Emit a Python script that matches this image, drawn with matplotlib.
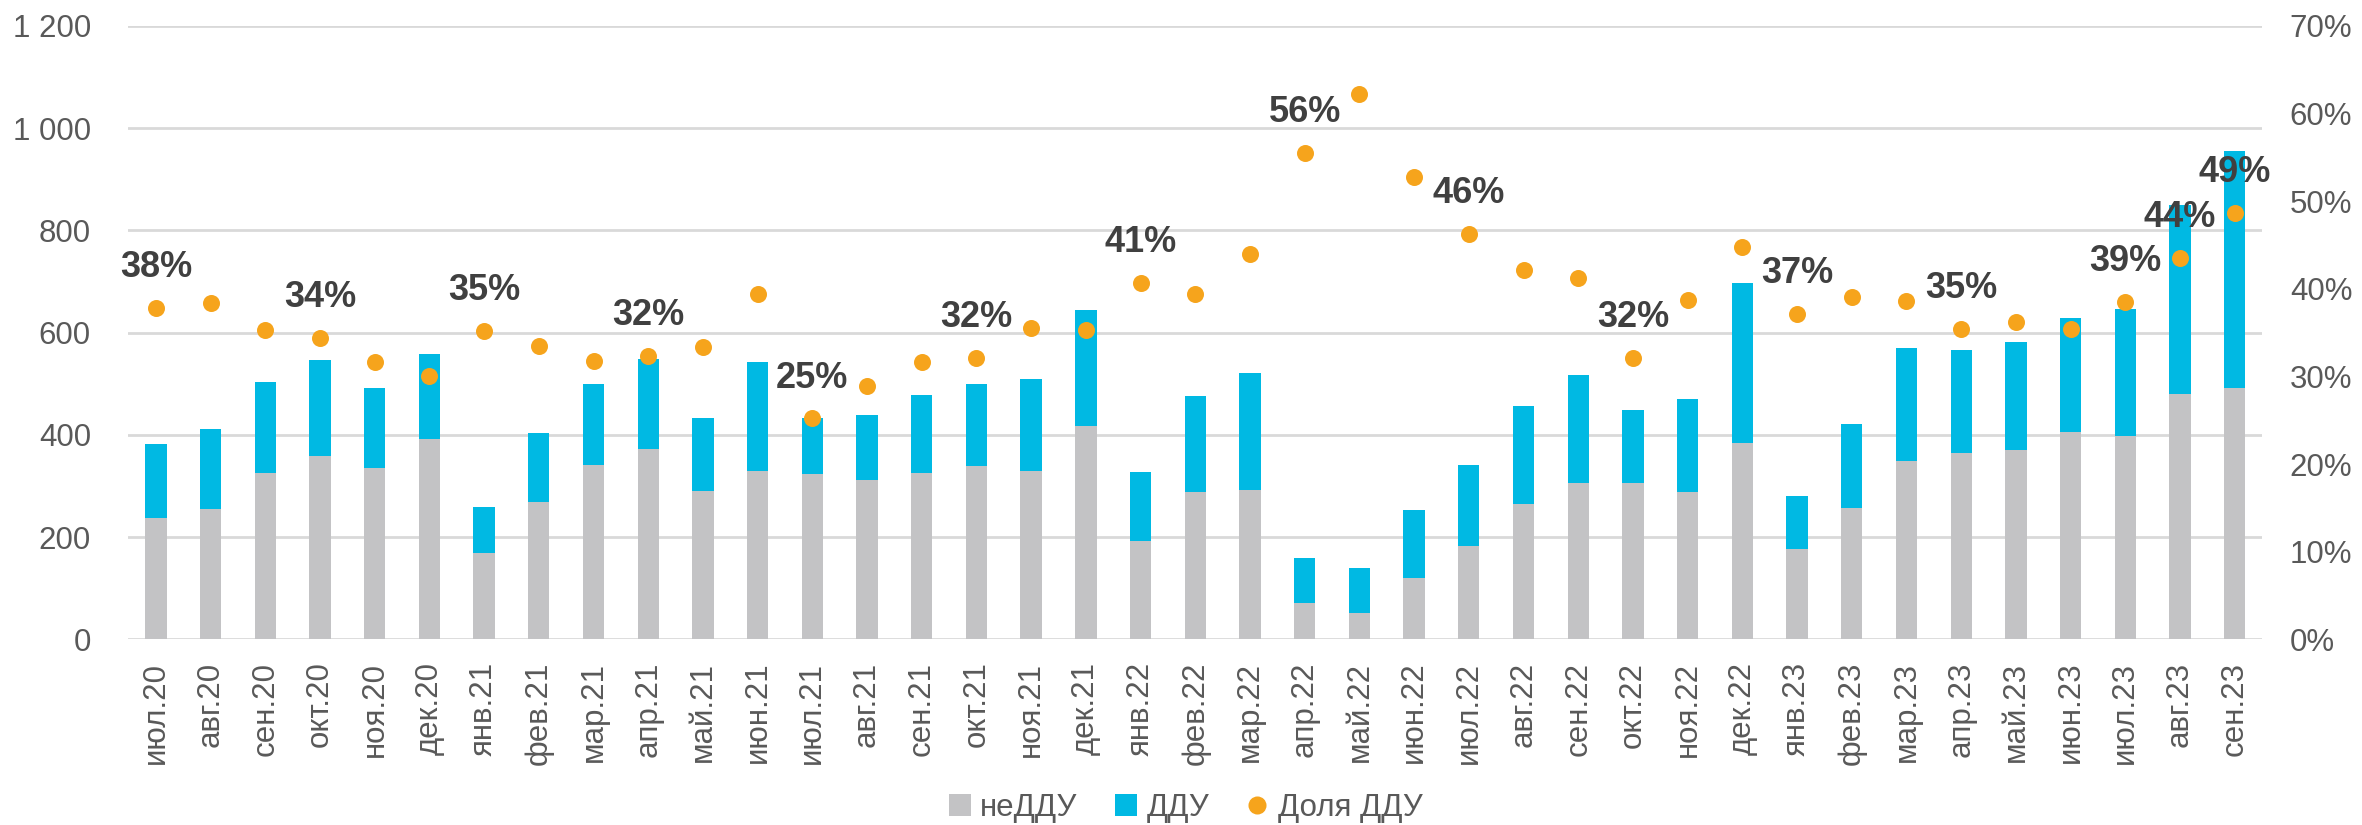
import matplotlib
matplotlib.use("Agg")
import matplotlib.pyplot as plt
from matplotlib.lines import Line2D
from matplotlib.patches import Patch
import numpy as np

months = ["июл.20", "авг.20", "сен.20", "окт.20", "ноя.20", "дек.20",
          "янв.21", "фев.21", "мар.21", "апр.21", "май.21", "июн.21",
          "июл.21", "авг.21", "сен.21", "окт.21", "ноя.21", "дек.21",
          "янв.22", "фев.22", "мар.22", "апр.22", "май.22", "июн.22",
          "июл.22", "авг.22", "сен.22", "окт.22", "ноя.22", "дек.22",
          "янв.23", "фев.23", "мар.23", "апр.23", "май.23", "июн.23",
          "июл.23", "авг.23", "сен.23"]

totals = [383, 412, 503, 546, 491, 559,
          258, 403, 500, 549, 432, 543,
          432, 438, 477, 500, 509, 645,
          327, 476, 520, 160, 139, 252,
          341, 457, 517, 449, 470, 697,
          281, 421, 569, 566, 581, 628,
          647, 850, 956]

ne_ddu = [238, 255, 325, 359, 335, 392,
          168, 268, 341, 372, 290, 330,
          323, 312, 325, 339, 329, 417,
          193, 288, 292, 71, 52, 120,
          183, 265, 305, 305, 288, 384,
          176, 257, 348, 365, 370, 405,
          397, 480, 492]

ddu = [t - n for t, n in zip(totals, ne_ddu)]

share_ddu = [37.8, 38.4, 35.3, 34.4, 31.6, 30.0,
             35.2, 33.5, 31.8, 32.3, 33.3, 39.4,
             25.2, 28.9, 31.7, 32.1, 35.5, 35.3,
             40.7, 39.4, 44.0, 55.5, 62.2, 52.7,
             46.3, 42.2, 41.2, 32.1, 38.7, 44.8,
             37.1, 39.1, 38.6, 35.4, 36.2, 35.4,
             38.5, 43.5, 48.7]

labeled_idx = [0, 3, 6, 9, 12, 15, 18, 21, 24, 27, 30, 33, 36, 37, 38]
label_texts = ["38%", "34%", "35%", "32%", "25%", "32%", "41%", "56%",
               "46%", "32%", "37%", "35%", "39%", "44%", "49%"]

GRAY = "#c3c3c5"
CYAN = "#00b9e3"
ORANGE = "#f6a41c"
TXT = "#595959"
LBL = "#404040"

plt.rcParams['font.family'] = ['Liberation Sans', 'DejaVu Sans']

fig = plt.figure(figsize=(23.62, 8.25), dpi=100)
ax = fig.add_axes([0.0544, 0.2251, 0.9033, 0.7435])
x = np.arange(len(months))
w = 0.39
ax.bar(x, ne_ddu, width=w, color=GRAY, zorder=2)
ax.bar(x, ddu, width=w, bottom=ne_ddu, color=CYAN, zorder=2)

ax.set_xlim(-0.5, len(months) - 0.5)
ax.set_ylim(0, 1200)
yt = list(range(0, 1201, 200))
ax.set_yticks(yt)
ax.set_yticklabels([f"{v:,}".replace(",", " ") for v in yt])
ax.yaxis.grid(True, color="#d9d9d9", linewidth=2, zorder=0)
ax.set_axisbelow(True)
for s in ["top", "right", "left", "bottom"]:
    ax.spines[s].set_visible(False)
ax.tick_params(axis="both", length=0, labelsize=22.5, labelcolor=TXT)
ax.tick_params(axis="y", pad=27)
ax.set_xticks(x)
ax.set_xticklabels(months, rotation=90)
ax.tick_params(axis="x", pad=16)

ax2 = ax.twinx()
ax2.set_ylim(0, 70)
ax2.set_yticks(range(0, 71, 10))
ax2.set_yticklabels([f"{v}%" for v in range(0, 71, 10)])
for s in ["top", "right", "left", "bottom"]:
    ax2.spines[s].set_visible(False)
ax2.tick_params(axis="y", length=0, labelsize=22.5, labelcolor=TXT, pad=20)
ax2.scatter(x, share_ddu, s=150, color=ORANGE, zorder=4, linewidths=0)

for i, t in zip(labeled_idx, label_texts):
    ax2.annotate(t, (x[i], share_ddu[i]), xytext=(0, 29), textcoords="offset points",
                 ha="center", va="center", fontsize=26, fontweight="bold", color=LBL, zorder=5)

handles = [Patch(facecolor=GRAY, edgecolor="none", label="неДДУ"),
           Patch(facecolor=CYAN, edgecolor="none", label="ДДУ"),
           Line2D([0], [0], marker="o", linestyle="none", markersize=13,
                  markerfacecolor=ORANGE, markeredgecolor="none", label="Доля ДДУ")]
leg = fig.legend(handles=handles, loc="center", bbox_to_anchor=(0.502, 0.021), ncol=3,
                 frameon=False, fontsize=22.5, handlelength=0.7, handleheight=0.7,
                 handletextpad=0.3, columnspacing=1.2)
for t in leg.get_texts():
    t.set_color(TXT)

fig.savefig("out.png", dpi=100)
